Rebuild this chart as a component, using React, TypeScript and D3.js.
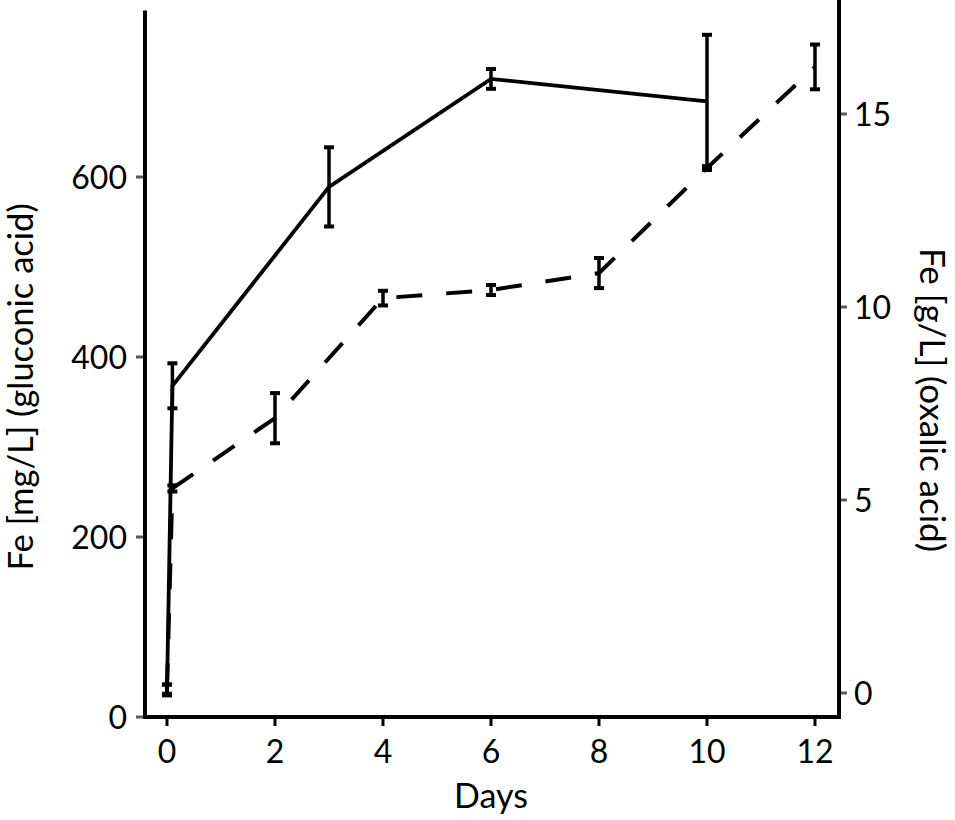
import * as d3 from "d3";
import React from "react";

// gluconic acid series (left axis, mg/L)
const glucDays = [0, 0.1, 3, 6, 10];
const glucFe = [30, 368, 589, 709, 684];
const glucErr = [6, 25, 44, 11, 74];

// oxalic acid series (right axis, g/L)
const oxDays = [0, 0.1, 2, 4, 6, 8, 10, 12];
const oxFe = [0.1, 5.3, 7.12, 10.23, 10.44, 10.88, 13.6, 16.22];
const oxErr = [0.12, 0.08, 0.65, 0.19, 0.13, 0.39, 0.05, 0.58];

const dayTicks = [0, 2, 4, 6, 8, 10, 12];
const leftTicks = [0, 200, 400, 600];
const rightTicks = [0, 5, 10, 15];

const W = 955;
const H = 820;
const font = "Lato, 'Open Sans', sans-serif";
const tickGrey = "#595959";

export default function App() {
  const x = d3.scaleLinear([0, 12], [167, 815]);
  const yL = d3.scaleLinear([0, 785], [717, 10.5]);
  const yR = d3.scaleLinear([0, 18], [693, -1.8]);

  const left = 145;
  const right = 839;
  const bottom = 717;

  const gluc = glucDays.map((d, i) => ({ d, v: glucFe[i], e: glucErr[i] }));
  const ox = oxDays.map((d, i) => ({ d, v: oxFe[i], e: oxErr[i] }));

  const lineL = d3
    .line<{ d: number; v: number }>()
    .x((p) => x(p.d))
    .y((p) => yL(p.v));
  const lineR = d3
    .line<{ d: number; v: number }>()
    .x((p) => x(p.d))
    .y((p) => yR(p.v));

  const errBar = (cx: number, y1: number, y2: number, key: string) => (
    <g key={key} stroke="#000">
      <line x1={cx} x2={cx} y1={y1} y2={y2} strokeWidth={3.5} />
      <line x1={cx - 5} x2={cx + 5} y1={y1} y2={y1} strokeWidth={4} />
      <line x1={cx - 5} x2={cx + 5} y1={y2} y2={y2} strokeWidth={4} />
    </g>
  );

  return (
    <svg
      width={W}
      height={H}
      style={{ position: "absolute", left: 0, top: 0, background: "#fff" }}
      fontFamily={font}
    >
      {/* axis lines */}
      <line x1={left} x2={left} y1={yL(785)} y2={bottom + 2} stroke="#000" strokeWidth={4} />
      <line x1={right} x2={right} y1={0} y2={bottom + 2} stroke="#000" strokeWidth={4} />
      <line x1={left - 2} x2={right + 2} y1={bottom} y2={bottom} stroke="#000" strokeWidth={4} />

      {/* left ticks */}
      {leftTicks.map((t) => (
        <g key={"l" + t}>
          <line x1={left - 9} x2={left - 2} y1={yL(t)} y2={yL(t)} stroke={tickGrey} strokeWidth={3} />
          <text x={127} y={yL(t)} dy="0.36em" textAnchor="end" fontSize={32}>
            {t}
          </text>
        </g>
      ))}

      {/* right ticks */}
      {rightTicks.map((t) => (
        <g key={"r" + t}>
          <line x1={right + 2} x2={right + 8} y1={yR(t)} y2={yR(t)} stroke={tickGrey} strokeWidth={3} />
          <text x={854} y={yR(t)} dy="0.36em" textAnchor="start" fontSize={32}>
            {t}
          </text>
        </g>
      ))}

      {/* bottom ticks */}
      {dayTicks.map((t) => (
        <g key={"b" + t}>
          <line x1={x(t)} x2={x(t)} y1={bottom + 2} y2={bottom + 9} stroke="#000" strokeWidth={3} />
          <text x={x(t)} y={763} textAnchor="middle" fontSize={32}>
            {t}
          </text>
        </g>
      ))}

      {/* axis titles */}
      <text x={491} y={808} textAnchor="middle" fontSize={34}>
        Days
      </text>
      <text
        transform={`translate(33,387) rotate(-90)`}
        textAnchor="middle"
        fontSize={34.5}
      >
        Fe [mg/L] (gluconic acid)
      </text>
      <text
        transform={`translate(920,400) rotate(90)`}
        textAnchor="middle"
        fontSize={35}
      >
        Fe [g/L] (oxalic acid)
      </text>

      {/* series lines */}
      <path d={lineL(gluc)} fill="none" stroke="#000" strokeWidth={3.8} />
      <path
        d={lineR(ox)}
        fill="none"
        stroke="#000"
        strokeWidth={4}
        strokeDasharray="26 24"
      />

      {/* error bars */}
      {gluc.map((p, i) => errBar(x(p.d), yL(p.v + p.e), yL(p.v - p.e), "ge" + i))}
      {ox.map((p, i) => errBar(x(p.d), yR(p.v + p.e), yR(p.v - p.e), "oe" + i))}
    </svg>
  );
}
